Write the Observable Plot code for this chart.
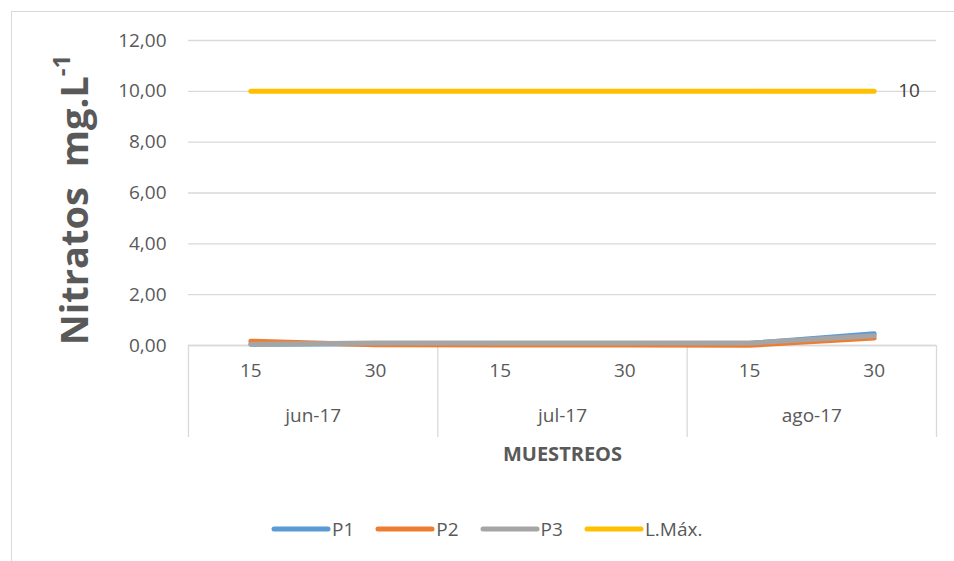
<!DOCTYPE html>
<html><head><meta charset="utf-8">
<script src="https://cdn.jsdelivr.net/npm/d3@7"></script>
<script src="https://cdn.jsdelivr.net/npm/@observablehq/plot@0.6"></script>
<style>
body{margin:0;background:#fff;font-family:"Open Sans",sans-serif;}
#wrap{position:relative;width:954px;height:561px;overflow:hidden;}
#frame{position:absolute;left:11px;top:11px;width:960px;height:600px;border-top:1px solid #d9d9d9;border-left:1px solid #d9d9d9;}
#chart{position:absolute;left:0;top:0;}
#legend{position:absolute;left:271px;top:516px;display:flex;align-items:center;font-size:19px;color:#595959;}
#legend .item{display:flex;align-items:center;margin-right:21px;}
#legend svg{margin-right:1px;}
</style></head>
<body><div id="wrap"><div id="frame"></div><div id="chart"></div><div id="legend"></div></div>
<script>
const days = ["15","30","15","30","15","30"];
const months = ["jun-17","jul-17","ago-17"];
const p1 = [0.05, 0.07, 0.08, 0.07, 0.08, 0.46];
const p2 = [0.17, 0.03, 0.02, 0.02, 0.01, 0.29];
const p3 = [0.05, 0.10, 0.10, 0.10, 0.10, 0.38];
const lmax = [10, 10, 10, 10, 10, 10];
const seriesNames = ["P1","P2","P3","L.Máx."];
const seriesColors = ["#5B9BD5","#ED7D31","#A5A5A5","#FFC000"];
const yTicks = [0,2,4,6,8,10,12];

const allSeries = [p1,p2,p3,lmax];
const rows = [];
allSeries.forEach((arr, s) => arr.forEach((v, i) => rows.push({s: seriesNames[s], i, v})));
const dayRows = days.map((d, i) => ({i, d}));
const monthRows = months.map((m, k) => ({x: k*2 + 0.5, m}));
const seps = [-0.5, 1.5, 3.5, 5.5];
const fmt = v => v.toFixed(2).replace(".", ",");

const chart = Plot.plot({
  width: 954, height: 480,
  marginLeft: 188, marginRight: 18, marginTop: 40, marginBottom: 135,
  style: {fontFamily: "'Open Sans', sans-serif", color: "#595959", background: "transparent", overflow: "visible"},
  x: {domain: [-0.5, 5.5], axis: null},
  y: {domain: [0, 12], axis: null},
  color: {domain: seriesNames, range: seriesColors},
  marks: [
    Plot.gridY(yTicks, {stroke: "#d9d9d9", strokeOpacity: 1, strokeWidth: 1.3}),
    Plot.axisY({ticks: yTicks, tickSize: 0, tickPadding: 22, tickFormat: fmt, fontSize: 19, fill: "#595959", label: null}),
    Plot.axisX({ticks: seps, tickSize: 92, tickFormat: () => "", stroke: "#d9d9d9", strokeOpacity: 1, strokeWidth: 1.3, label: null}),
    Plot.ruleY([0], {stroke: "#d9d9d9", strokeWidth: 1.3}),
    Plot.text(dayRows, {x: "i", text: "d", frameAnchor: "bottom", dy: 31, fontSize: 19, fill: "#595959"}),
    Plot.text(monthRows, {x: "x", text: "m", frameAnchor: "bottom", dy: 76, fontSize: 19, fill: "#595959"}),
    Plot.text(["MUESTREOS"], {frameAnchor: "bottom", dy: 115, fontSize: 20, fontWeight: "bold", fill: "#595959"}),
    Plot.text(["Nitratos  mg.L"], {frameAnchor: "left", textAnchor: "middle", dx: -113, dy: 7, rotate: -90, fontSize: 38, fontWeight: "bold", fill: "#595959", className: "ytitle"}),
    Plot.line(rows, {x: "i", y: "v", z: "s", stroke: "s", strokeWidth: 5, strokeLinecap: "round", strokeLinejoin: "round"}),
    Plot.text(rows.filter(d => d.s === "L.Máx." && d.i === lmax.length - 1), {x: "i", y: "v", text: d => String(d.v), dx: 24, textAnchor: "start", fontSize: 19, fill: "#404040"})
  ]
});
document.getElementById("chart").appendChild(chart);
// superscript on y title
const t = d3.select(chart).select("g.ytitle text");
t.text(null);
t.append("tspan").text("Nitratos  mg.L");
t.append("tspan").text("-1").attr("font-size", 24).attr("dy", "-0.75em");

const lg = d3.select("#legend");
seriesNames.forEach((n, i) => {
  const it = lg.append("div").attr("class", "item");
  const s = it.append("svg").attr("width", 60).attr("height", 10);
  s.append("line").attr("x1", 3).attr("x2", 57).attr("y1", 5).attr("y2", 5)
    .attr("stroke", seriesColors[i]).attr("stroke-width", 5).attr("stroke-linecap", "round");
  it.append("span").text(n);
});
</script></body></html>
